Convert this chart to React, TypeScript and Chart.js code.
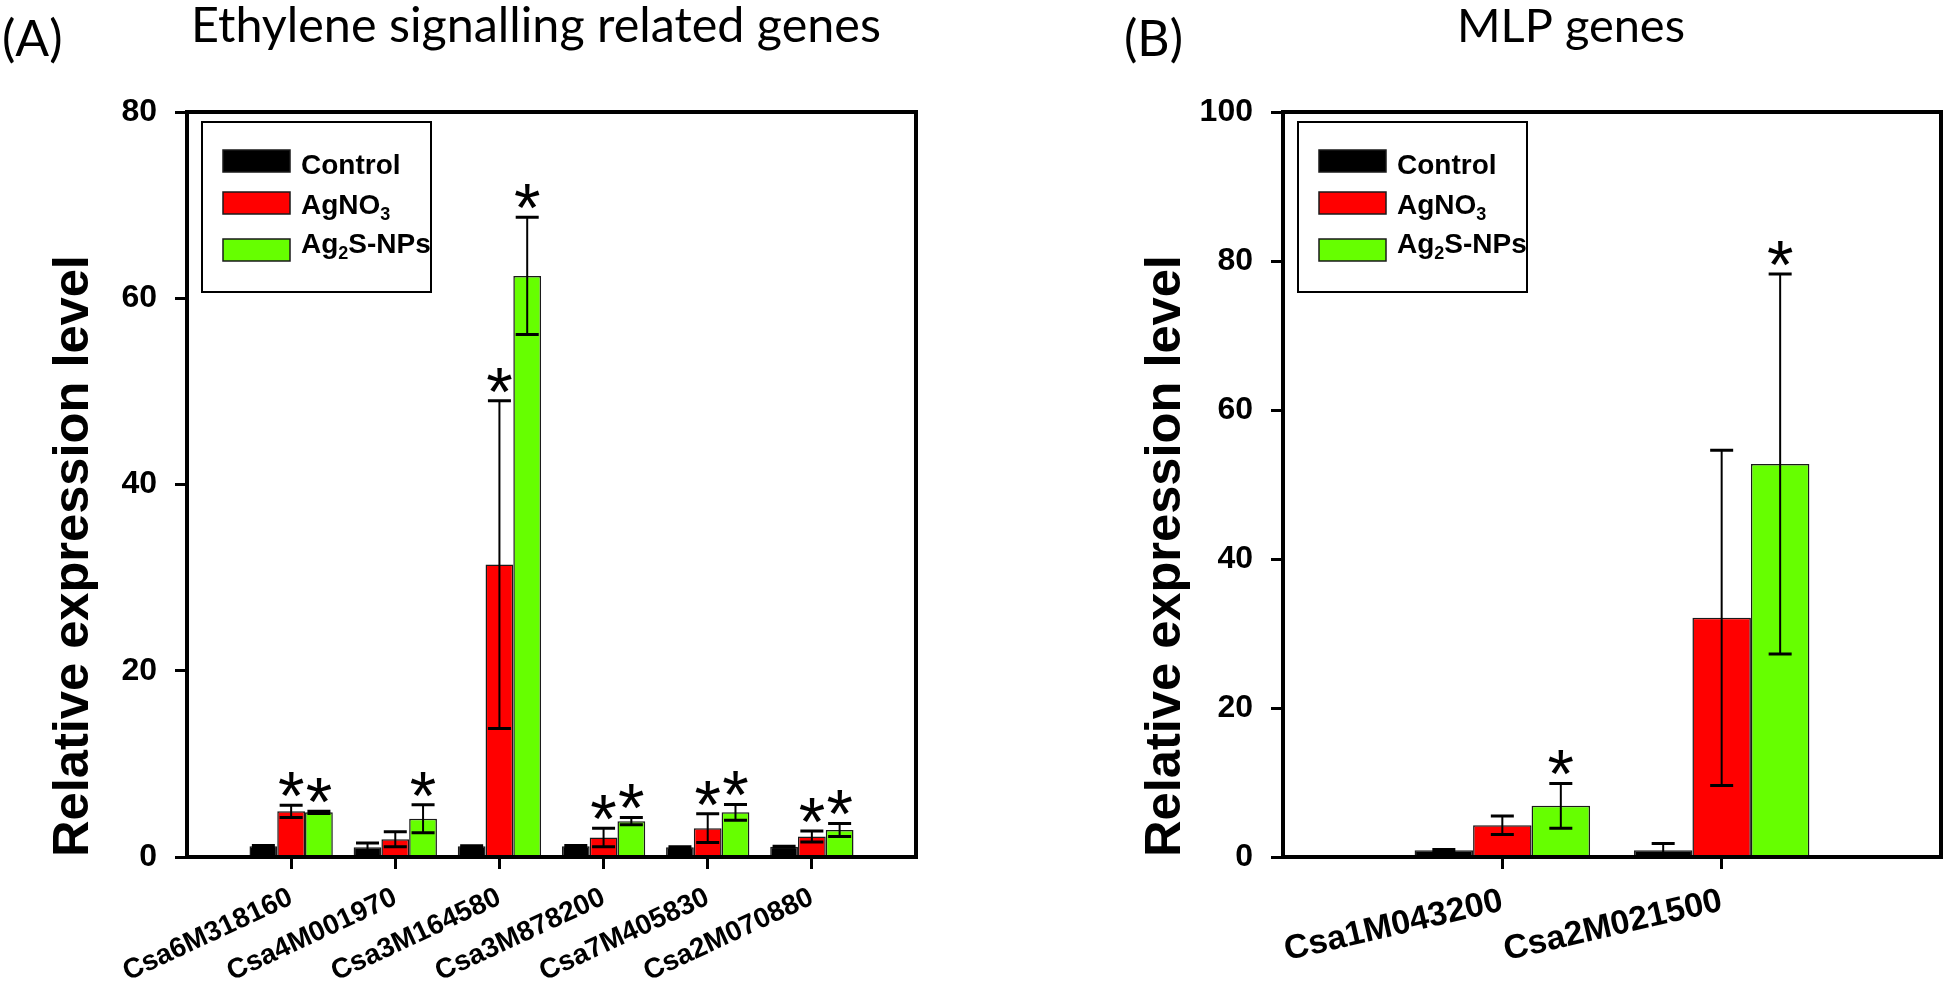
import React, { useEffect, useRef } from 'react';
import { Chart, registerables } from 'chart.js';
Chart.register(...registerables);

const W = 1947;
const H = 990;
const BASE_FONT = "'Liberation Sans', Arial, sans-serif";
const TITLE_FONT = "Lato, 'Open Sans', sans-serif";

// ---------- data ----------
const seriesNames = ['Control', 'AgNO3', 'Ag2S-NPs'];
const seriesColors = ['#000000', '#ff0000', '#66ff00'];
const legendParts: [string, boolean][][] = [
  [['Control', false]],
  [['AgNO', false], ['3', true]],
  [['Ag', false], ['2', true], ['S-NPs', false]],
];

const genesA = ['Csa6M318160', 'Csa4M001970', 'Csa3M164580', 'Csa3M878200', 'Csa7M405830', 'Csa2M070880'];
const controlA = [1.15, 1.05, 1.15, 1.15, 1.05, 1.1];
const controlErrA = [0.08, 0.45, 0.05, 0.08, 0.05, 0.05];
const agno3A = [4.9, 1.9, 31.4, 2.1, 3.1, 2.2];
const agno3ErrA = [0.65, 0.8, 17.6, 1.0, 1.55, 0.6];
const ag2sA = [4.8, 4.1, 62.4, 3.85, 4.8, 2.9];
const ag2sErrA = [0.12, 1.5, 6.3, 0.4, 0.85, 0.7];
const starControlA = [false, false, false, false, false, false];
const starAgno3A = [true, false, true, true, true, true];
const starAg2sA = [true, true, true, true, true, true];
const yTicksA = [0, 20, 40, 60, 80];

const genesB = ['Csa1M043200', 'Csa2M021500'];
const controlB = [0.9, 0.9];
const controlErrB = [0.1, 0.9];
const agno3B = [4.27, 32.1];
const agno3ErrB = [1.25, 22.5];
const ag2sB = [6.87, 52.75];
const ag2sErrB = [3.0, 25.5];
const starControlB = [false, false];
const starAgno3B = [false, false];
const starAg2sB = [true, true];
const yTicksB = [0, 20, 40, 60, 80, 100];

type Spec = {
  canvasLeft: number;
  canvasWidth: number;
  area: { left: number; right: number; top: number; bottom: number };
  genes: string[];
  values: number[][];
  errors: number[][];
  stars: boolean[][];
  yTicks: number[];
  rotation: number;
  xFontSize: number;
  panelLabel: string;
  panelLabelX: number;
  title: string;
  titleX: number;
  titleWidth: number;
  yTitleX: number;
  yTitleY: number;
  yTitleLength: number;
};

const panelA: Spec = {
  canvasLeft: 0,
  canvasWidth: 975,
  area: { left: 187, right: 916, top: 112, bottom: 857 },
  genes: genesA,
  values: [controlA, agno3A, ag2sA],
  errors: [controlErrA, agno3ErrA, ag2sErrA],
  stars: [starControlA, starAgno3A, starAg2sA],
  yTicks: yTicksA,
  rotation: 25,
  xFontSize: 28,
  panelLabel: '(A)',
  panelLabelX: 2,
  title: 'Ethylene signalling related genes',
  titleX: 536,
  titleWidth: 690,
  yTitleX: 88,
  yTitleY: 556,
  yTitleLength: 602,
};

const panelB: Spec = {
  canvasLeft: 975,
  canvasWidth: 972,
  area: { left: 308, right: 966, top: 112, bottom: 857 },
  genes: genesB,
  values: [controlB, agno3B, ag2sB],
  errors: [controlErrB, agno3ErrB, ag2sErrB],
  stars: [starControlB, starAgno3B, starAg2sB],
  yTicks: yTicksB,
  rotation: 13,
  xFontSize: 34,
  panelLabel: '(B)',
  panelLabelX: 149,
  title: 'MLP genes',
  titleX: 596,
  titleWidth: 228,
  yTitleX: 205,
  yTitleY: 556,
  yTitleLength: 602,
};

function fitFont(ctx: CanvasRenderingContext2D, text: string, weight: string, family: string, target: number) {
  ctx.font = `${weight} 40px ${family}`;
  const w = ctx.measureText(text).width;
  return (40 * target) / w;
}

function makeChart(canvas: HTMLCanvasElement, spec: Spec) {
  const yMax = spec.yTicks[spec.yTicks.length - 1];
  const overlay = {
    id: 'overlay',
    afterDatasetsDraw(chart: any) {
      const ctx: CanvasRenderingContext2D = chart.ctx;
      const ya = chart.scales.y;
      const area = chart.chartArea;
      ctx.save();
      // error bars
      spec.errors.forEach((errs, i) => {
        const meta = chart.getDatasetMeta(i);
        meta.data.forEach((bar: any, j: number) => {
          const v = spec.values[i][j];
          const e = errs[j];
          const yt = ya.getPixelForValue(v + e);
          const yb = ya.getPixelForValue(Math.max(v - e, 0));
          ctx.strokeStyle = '#000';
          ctx.lineWidth = 2;
          ctx.beginPath();
          ctx.moveTo(bar.x, yt);
          ctx.lineTo(bar.x, yb);
          ctx.stroke();
          ctx.lineWidth = 3;
          ctx.beginPath();
          ctx.moveTo(bar.x - 11.5, yt);
          ctx.lineTo(bar.x + 11.5, yt);
          ctx.moveTo(bar.x - 11.5, yb);
          ctx.lineTo(bar.x + 11.5, yb);
          ctx.stroke();
          if (spec.stars[i][j]) {
            ctx.font = `normal 68px ${BASE_FONT}`;
            ctx.textAlign = 'center';
            ctx.textBaseline = 'alphabetic';
            ctx.fillStyle = '#000';
            const m = ctx.measureText('*');
            const d = m.actualBoundingBoxDescent;
            ctx.fillText('*', bar.x, yt - 8 - d);
          }
        });
      });
      // frame
      ctx.strokeStyle = '#000';
      ctx.lineWidth = 4;
      ctx.lineJoin = 'miter';
      ctx.strokeRect(area.left, area.top, area.right - area.left, area.bottom - area.top);
      // legend
      const bx = area.left + 15;
      const by = area.top + 10;
      ctx.lineWidth = 2;
      ctx.strokeRect(bx, by, 229, 170);
      const swTops = [28, 70, 117];
      const baselines = [52, 92, 131];
      seriesNames.forEach((_, i) => {
        ctx.fillStyle = seriesColors[i];
        ctx.fillRect(bx + 21, by + swTops[i], 67, 22);
        ctx.lineWidth = 1.5;
        ctx.strokeStyle = '#1a1a1a';
        ctx.strokeRect(bx + 21, by + swTops[i], 67, 22);
        ctx.fillStyle = '#000';
        ctx.textAlign = 'left';
        ctx.textBaseline = 'alphabetic';
        let cx = bx + 99;
        for (const [t, sub] of legendParts[i]) {
          const fs = sub ? 18 : 28;
          ctx.font = `bold ${fs}px ${BASE_FONT}`;
          ctx.fillText(t, cx, by + baselines[i] + (sub ? 6 : 0));
          cx += ctx.measureText(t).width;
        }
      });
      ctx.restore();
    },
    afterDraw(chart: any) {
      const ctx: CanvasRenderingContext2D = chart.ctx;
      ctx.save();
      ctx.fillStyle = '#000';
      // panel title
      const tfs = fitFont(ctx, spec.title, 'normal', TITLE_FONT, spec.titleWidth);
      ctx.font = `normal ${tfs}px ${TITLE_FONT}`;
      ctx.textAlign = 'center';
      ctx.textBaseline = 'alphabetic';
      ctx.fillText(spec.title, spec.titleX, 42);
      // panel label
      ctx.font = `normal 50px ${TITLE_FONT}`;
      ctx.textAlign = 'left';
      ctx.fillText(spec.panelLabel, spec.panelLabelX, 56);
      // y title
      const ytxt = 'Relative expression level';
      const yfs = fitFont(ctx, ytxt, 'bold', BASE_FONT, spec.yTitleLength);
      ctx.font = `bold ${yfs}px ${BASE_FONT}`;
      ctx.translate(spec.yTitleX, spec.yTitleY);
      ctx.rotate(-Math.PI / 2);
      ctx.textAlign = 'center';
      ctx.fillText(ytxt, 0, 0);
      ctx.restore();
    },
  };

  const datasets = seriesNames.map((name, i) => ({
    label: name,
    data: spec.genes.map((_, j) => ({ x: j, y: spec.values[i][j] })),
    backgroundColor: seriesColors[i],
    borderColor: '#1a1a1a',
    borderWidth: 1.5,
    borderSkipped: false as const,
    categoryPercentage: 0.8,
    barPercentage: 1.0,
  }));

  const gridOpts = {
    display: true,
    offset: false,
    drawOnChartArea: false,
    drawTicks: true,
    tickLength: 12,
    tickWidth: 3,
    tickColor: '#000',
  };

  return new Chart(canvas, {
    type: 'bar',
    data: { datasets },
    plugins: [overlay],
    options: {
      animation: false,
      responsive: false,
      devicePixelRatio: 1,
      layout: {
        padding: { top: spec.area.top, right: spec.canvasWidth - spec.area.right, left: 0, bottom: 0 },
      },
      plugins: { legend: { display: false }, tooltip: { enabled: false }, title: { display: false } },
      scales: {
        x: {
          type: 'linear',
          min: -1,
          max: spec.genes.length,
          offset: false,
          afterBuildTicks: (axis: any) => {
            axis.ticks = spec.genes.map((_, j) => ({ value: j }));
          },
          afterFit: (axis: any) => {
            axis.height = H - spec.area.bottom;
          },
          ticks: {
            autoSkip: false,
            minRotation: spec.rotation,
            maxRotation: spec.rotation,
            padding: 12,
            color: '#000',
            font: { family: BASE_FONT, size: spec.xFontSize, weight: 'bold' },
            callback: (v: any) => spec.genes[v] ?? '',
          },
          grid: gridOpts,
          border: { display: false },
        },
        y: {
          min: 0,
          max: yMax,
          afterBuildTicks: (axis: any) => {
            axis.ticks = spec.yTicks.map((v) => ({ value: v }));
          },
          afterFit: (axis: any) => {
            axis.width = spec.area.left;
          },
          ticks: {
            padding: 18,
            color: '#000',
            font: { family: BASE_FONT, size: 32, weight: 'bold' },
          },
          grid: gridOpts,
          border: { display: false },
        },
      },
    } as any,
  });
}

export default function App() {
  const refA = useRef<HTMLCanvasElement>(null);
  const refB = useRef<HTMLCanvasElement>(null);
  useEffect(() => {
    document.body.style.margin = '0';
    const a = makeChart(refA.current!, panelA);
    const b = makeChart(refB.current!, panelB);
    return () => {
      a.destroy();
      b.destroy();
    };
  }, []);
  return (
    <div style={{ position: 'relative', width: W, height: H, background: '#fff', overflow: 'hidden' }}>
      <canvas
        ref={refA}
        width={panelA.canvasWidth}
        height={H}
        style={{ position: 'absolute', left: panelA.canvasLeft, top: 0 }}
      />
      <canvas
        ref={refB}
        width={panelB.canvasWidth}
        height={H}
        style={{ position: 'absolute', left: panelB.canvasLeft, top: 0 }}
      />
    </div>
  );
}
